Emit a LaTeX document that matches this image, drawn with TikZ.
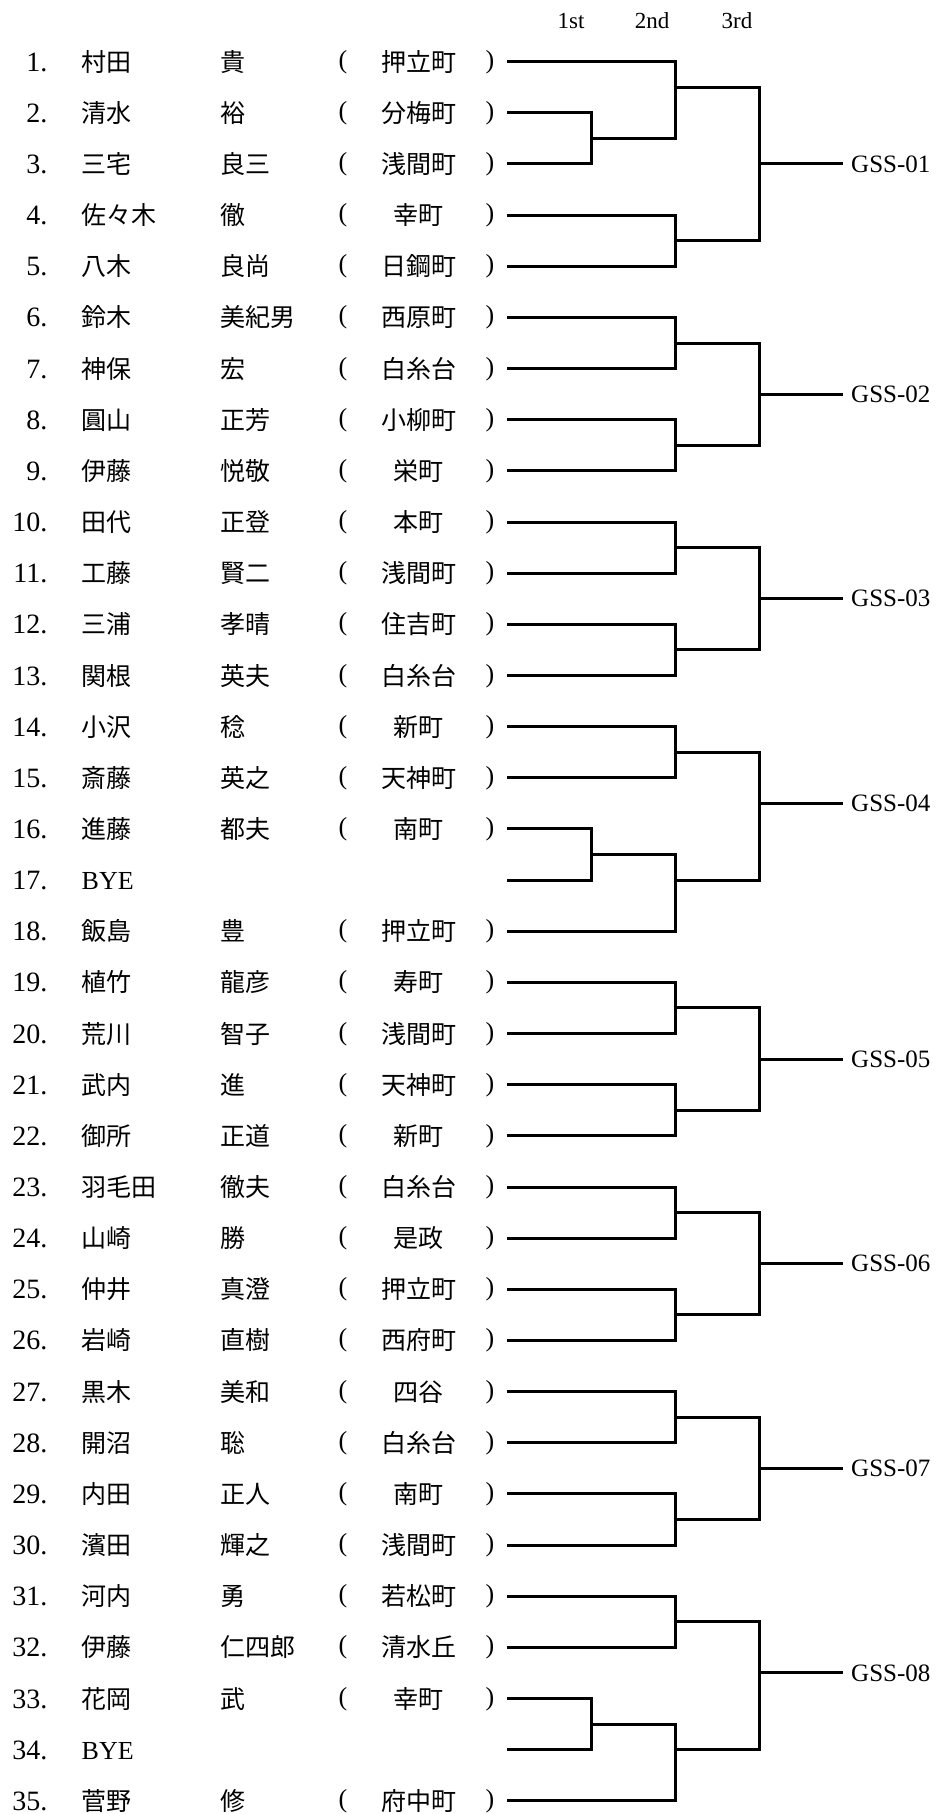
\documentclass[tikz,border=0pt]{standalone}
\usepackage{fontspec}
\setmainfont{Liberation Serif}
\newfontfamily\jp{Noto Sans CJK JP}
\begin{document}
\begin{tikzpicture}[x=1pt,y=-51.15pt,
  txt/.style={inner sep=0pt, anchor=base west, yshift=-9.5pt},
  jtxt/.style={txt, font=\jp\fontsize{25}{30}\selectfont},
  numtxt/.style={inner sep=0pt, anchor=base east, yshift=-9.5pt, font=\fontsize{28}{32}\selectfont},
  byetxt/.style={txt, font=\fontsize{26}{30}\selectfont},
  paren/.style={inner sep=0pt, anchor=base, yshift=-6.5pt, font=\fontsize{26}{30}\selectfont},
  hdr/.style={inner sep=0pt, anchor=base, font=\fontsize{23}{26}\selectfont},
  gss/.style={anchor=west, inner xsep=8pt, inner ysep=0pt, font=\fontsize{25}{30}\selectfont},
  br/.style={line width=3pt, line join=miter, line cap=butt}
]
\path[use as bounding box] (0,0) rectangle (941,35.46432);
% header
\node[hdr] (h1) at (571pt,-29pt) {1st};
\node[hdr] (h2) at (652pt,-29pt) {2nd};
\node[hdr] (h3) at (737pt,-29pt) {3rd};
\begin{scope}[yshift=-10.55pt]
% entries
\foreach \n/\s/\g/\t in {
 1/村田/貴/押立町, 2/清水/裕/分梅町, 3/三宅/良三/浅間町, 4/佐々木/徹/幸町,
 5/八木/良尚/日鋼町, 6/鈴木/美紀男/西原町, 7/神保/宏/白糸台, 8/圓山/正芳/小柳町,
 9/伊藤/悦敬/栄町, 10/田代/正登/本町, 11/工藤/賢二/浅間町, 12/三浦/孝晴/住吉町,
 13/関根/英夫/白糸台, 14/小沢/稔/新町, 15/斎藤/英之/天神町, 16/進藤/都夫/南町,
 18/飯島/豊/押立町, 19/植竹/龍彦/寿町, 20/荒川/智子/浅間町, 21/武内/進/天神町,
 22/御所/正道/新町, 23/羽毛田/徹夫/白糸台, 24/山崎/勝/是政, 25/仲井/真澄/押立町,
 26/岩崎/直樹/西府町, 27/黒木/美和/四谷, 28/開沼/聡/白糸台, 29/内田/正人/南町,
 30/濱田/輝之/浅間町, 31/河内/勇/若松町, 32/伊藤/仁四郎/清水丘, 33/花岡/武/幸町,
 35/菅野/修/府中町}{
  \node[numtxt] (num\n) at (47.5,\n) {\n.};
  \node[jtxt] (sur\n) at (81.5,\n) {\s};
  \node[jtxt] (giv\n) at (220,\n) {\g};
  \node[paren] (lp\n) at (343,\n) {(};
  \node[jtxt, anchor=base] (town\n) at (418.5,\n) {\t};
  \node[paren] (rp\n) at (490,\n) {)};
}
\foreach \n in {17,34}{
  \node[numtxt] (num\n) at (47.5,\n) {\n.};
  \node[byetxt] (bye\n) at (81.5,\n) {BYE};
}
\foreach \n in {1,...,35}{\coordinate (e\n) at (507,\n);}
% group 1
\coordinate (j1a) at (591,2.5);
\coordinate (j1u) at (675,1.5);
\coordinate (j1l) at (675,4.5);
\coordinate (g1) at (759,3);
\draw[br] (e2) -| (j1a) |- (e3);
\draw[br] (e1) -| (j1u) |- (j1a);
\draw[br] (e4) -| (j1l) |- (e5);
\draw[br] (j1u) -| (g1) |- (j1l);
\node[gss] (gss1) at (843,3) {GSS-01};
\draw[br] (g1) -- (gss1.west);
% standard groups
\foreach \gi/\a in {2/6,3/10,5/19,6/23,7/27}{
  \pgfmathtruncatemacro\b{\a+1}
  \pgfmathtruncatemacro\c{\a+2}
  \pgfmathtruncatemacro\d{\a+3}
  \coordinate (j\gi u) at (675,\a+0.5);
  \coordinate (j\gi l) at (675,\a+2.5);
  \coordinate (g\gi) at (759,\a+1.5);
  \draw[br] (e\a) -| (j\gi u) |- (e\b);
  \draw[br] (e\c) -| (j\gi l) |- (e\d);
  \draw[br] (j\gi u) -| (g\gi) |- (j\gi l);
  \node[gss] (gss\gi) at (843,\a+1.5) {GSS-0\gi};
  \draw[br] (g\gi) -- (gss\gi.west);
}
% group 4
\coordinate (j4u) at (675,14.5);
\coordinate (j4a) at (591,16.5);
\coordinate (j4l) at (675,17);
\coordinate (g4) at (759,15.5);
\draw[br] (e14) -| (j4u) |- (e15);
\draw[br] (e16) -| (j4a) |- (e17);
\draw[br] (j4a) -| (j4l) |- (e18);
\draw[br] (j4u) -| (g4) |- (j4l);
\node[gss] (gss4) at (843,15.5) {GSS-04};
\draw[br] (g4) -- (gss4.west);
% group 8
\coordinate (j8u) at (675,31.5);
\coordinate (j8a) at (591,33.5);
\coordinate (j8l) at (675,34);
\coordinate (g8) at (759,32.5);
\draw[br] (e31) -| (j8u) |- (e32);
\draw[br] (e33) -| (j8a) |- (e34);
\draw[br] (j8a) -| (j8l) |- (e35);
\draw[br] (j8u) -| (g8) |- (j8l);
\node[gss] (gss8) at (843,32.5) {GSS-08};
\draw[br] (g8) -- (gss8.west);
\end{scope}
\end{tikzpicture}
\end{document}
